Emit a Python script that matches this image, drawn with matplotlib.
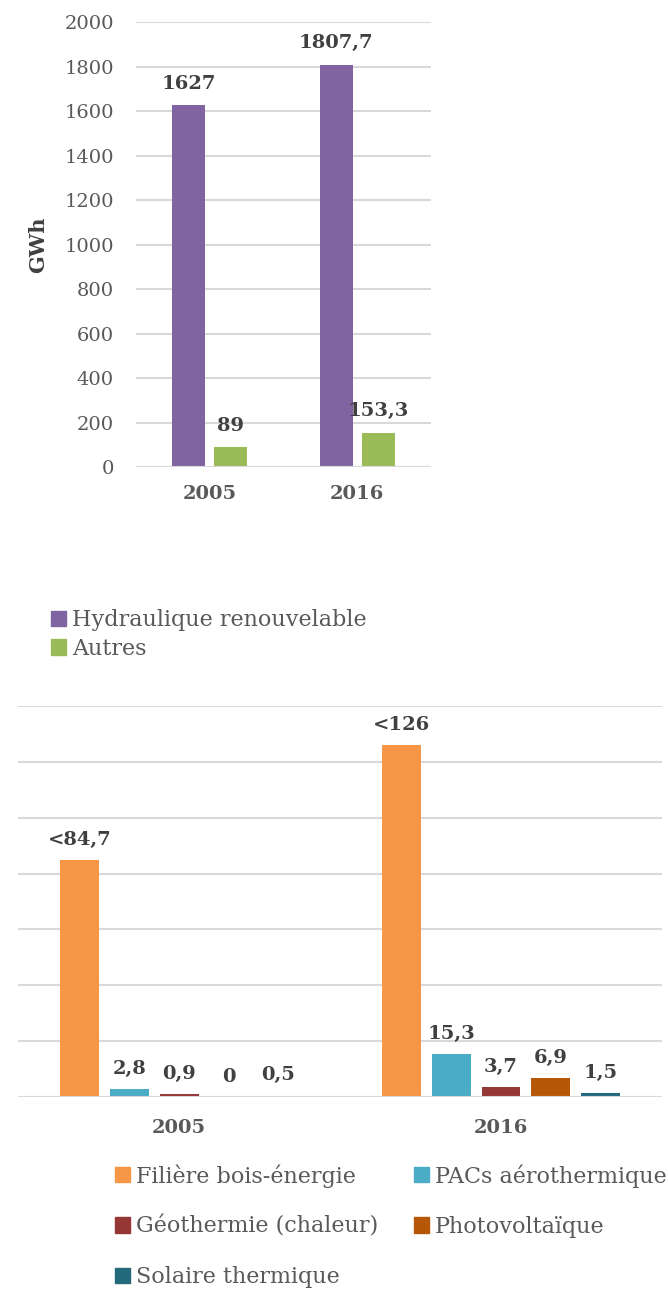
import matplotlib.pyplot as plt
import numpy as np
from matplotlib.patches import Patch

plt.rcParams['font.family'] = ['DejaVu Serif']

# Production électrique (GWh)
years = ['2005', '2016']
elec_series = ['Hydraulique renouvelable', 'Autres']
hydraulique = [1627, 1807.7]
autres = [89, 153.3]
elec_labels = [['1627', '1807,7'], ['89', '153,3']]
elec_colors = ['#8064A2', '#9BBB59']

# Production de chaleur / autres filières
chal_series = ['Filière bois-énergie', 'PACs aérothermique', 'Géothermie (chaleur)',
               'Photovoltaïque', 'Solaire thermique']
bois = [84.7, 126]
pacs = [2.8, 15.3]
geoth = [0.9, 3.7]
photov = [0, 6.9]
solaire = [0.5, 1.5]
chal_labels = [['<84,7', '<126'], ['2,8', '15,3'], ['0,9', '3,7'], ['0', '6,9'], ['0,5', '1,5']]
chal_colors = ['#F79646', '#4BACC6', '#953735', '#B65708', '#24687C']

GRID = '#D9D9D9'
TICK = '#595959'
VAL = '#404040'

fig = plt.figure(figsize=(6.68, 12.89), dpi=100)

# ---- top chart ----
ax1 = fig.add_axes([0.2036, 0.6377, 0.4416, 0.3452])
x = np.arange(len(years))
w1 = 0.224
offs1 = [-0.143, 0.143]
for vals, labs, col, off in zip([hydraulique, autres], elec_labels, elec_colors, offs1):
    bars = ax1.bar(x + off, vals, w1, color=col, zorder=3)
    for b, lab in zip(bars, labs):
        ax1.annotate(lab, (b.get_x() + b.get_width() / 2, b.get_height()),
                     xytext=(0, 9), textcoords='offset points', ha='center', va='bottom',
                     fontsize=14, fontweight='bold', color=VAL)
ax1.set_xlim(-0.5, 1.5)
ax1.set_ylim(0, 2000)
ax1.set_yticks(range(0, 2001, 200))
ax1.set_xticks(x)
ax1.set_xticklabels(years, fontsize=14, fontweight='bold', color=TICK)
ax1.tick_params(axis='y', length=0, pad=16, labelsize=14, labelcolor=TICK)
ax1.tick_params(axis='x', length=0, pad=13)
ax1.grid(axis='y', color=GRID, linewidth=1.5, zorder=0)
for s in ax1.spines.values():
    s.set_visible(False)
ax1.axhline(0, color=GRID, linewidth=1.5, zorder=4)
ax1.set_ylabel('GWh', fontsize=15, fontweight='bold', color=VAL)
ax1.yaxis.set_label_coords(-0.298, 0.5)

h1 = [Patch(color=c) for c in elec_colors]
fig.legend(h1, elec_series, loc='upper left', bbox_to_anchor=(51 / 668, 1 - 609 / 1289),
           frameon=False, fontsize=16, labelcolor=TICK, handlelength=0.68, handleheight=0.68,
           handletextpad=0.27, labelspacing=0.3, borderpad=0, borderaxespad=0)

# ---- bottom chart ----
ax2 = fig.add_axes([0.027, 0.149, 0.964, 0.3033])
w2 = 0.121
step = 0.154
for i, (vals, labs, col) in enumerate(zip([bois, pacs, geoth, photov, solaire], chal_labels, chal_colors)):
    off = (i - 2) * step
    bars = ax2.bar(x + off, vals, w2, color=col, zorder=3)
    for b, lab in zip(bars, labs):
        ax2.annotate(lab, (b.get_x() + b.get_width() / 2, b.get_height()),
                     xytext=(0, 8), textcoords='offset points', ha='center', va='bottom',
                     fontsize=14, fontweight='bold', color=VAL)
ax2.set_xlim(-0.5, 1.5)
ax2.set_ylim(0, 140)
ax2.set_yticks(range(0, 141, 20))
ax2.set_yticklabels([])
ax2.set_xticks(x)
ax2.set_xticklabels(years, fontsize=14, fontweight='bold', color=TICK)
ax2.tick_params(axis='y', length=0)
ax2.tick_params(axis='x', length=0, pad=16)
ax2.grid(axis='y', color=GRID, linewidth=1.5, zorder=0)
for s in ax2.spines.values():
    s.set_visible(False)
ax2.axhline(0, color=GRID, linewidth=1.5, zorder=4)

# legend entries go row by row: reorder for column-major filling
order = [0, 2, 4, 1, 3]
h2 = [Patch(color=chal_colors[i]) for i in order]
l2 = [chal_series[i] for i in order]
fig.legend(h2, l2, loc='upper left', bbox_to_anchor=(115 / 668, 1 - 1164 / 1289), ncol=2,
           frameon=False, fontsize=16, labelcolor=TICK, handlelength=0.68, handleheight=0.68,
           handletextpad=0.27, labelspacing=1.27, columnspacing=1.6, borderpad=0, borderaxespad=0)

fig.savefig('out.png', dpi=100)
